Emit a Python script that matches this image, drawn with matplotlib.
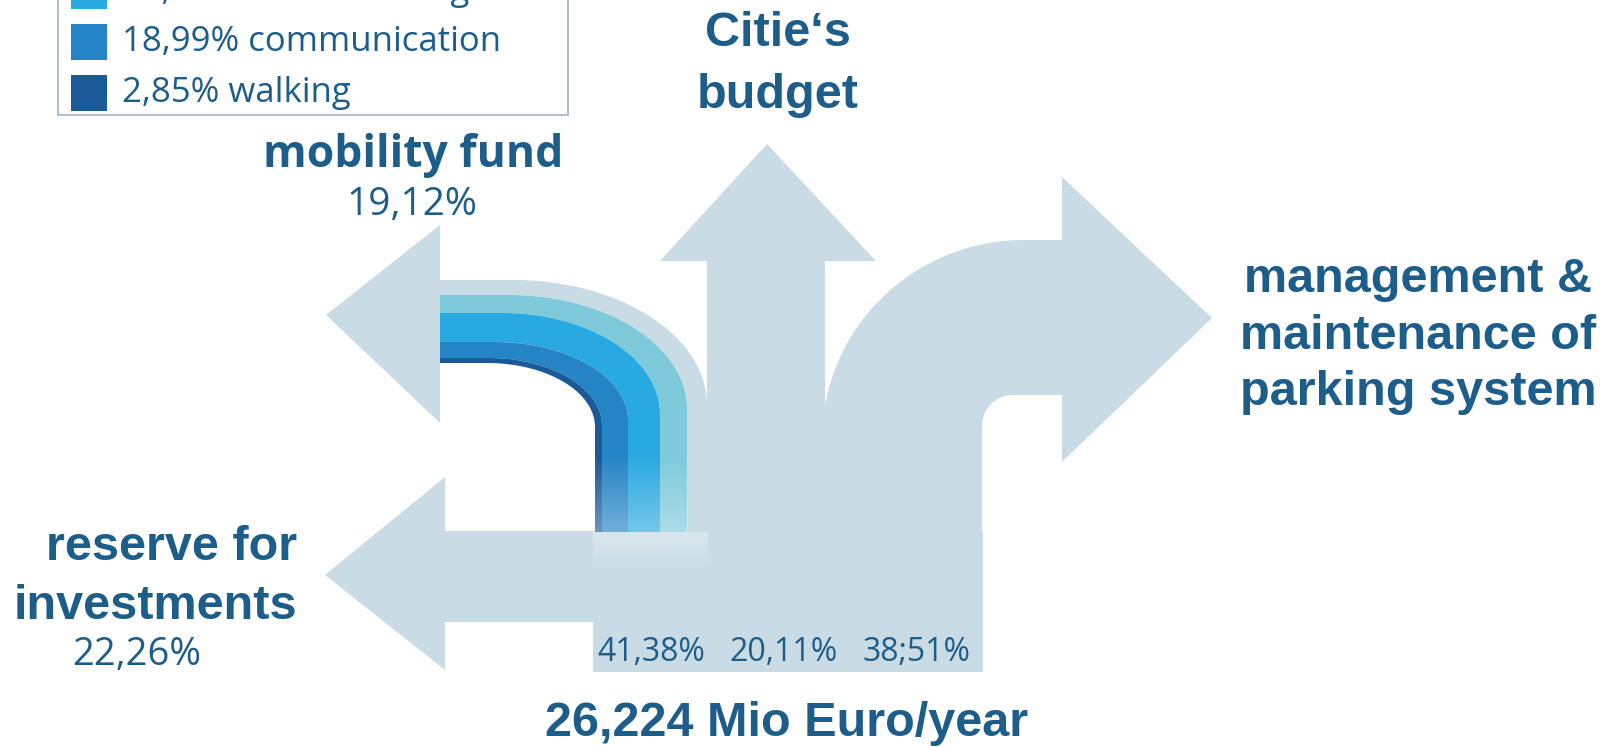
import numpy as np
import matplotlib
matplotlib.use("Agg")
import matplotlib.pyplot as plt
from matplotlib.patches import Polygon, Rectangle

# ---- data ----
total_label = "26,224 Mio Euro/year"
trunk_shares = ["41,38%", "20,11%", "38;51%"]
branch_names = ["mobility fund", "reserve for\ninvestments", "Citie\u2018s\nbudget",
                "management &\nmaintenance of\nparking system"]
branch_shares = ["19,12%", "22,26%"]
fund_items = ["38,96% mobil. management", "18,99% communication", "2,85% walking"]

# ---- style ----
GRAY = "#c9dbe5"
TXT = "#1d5d8a"
TEAL, BRIGHT, MEDIUM, DARK = "#7ecadb", "#29a9e1", "#2584c5", "#1b5a98"
item_colors = [BRIGHT, MEDIUM, DARK]
BOLD = "Liberation Sans"
MYR = "Open Sans"

W, H = 1615, 747
fig = plt.figure(figsize=(W / 100, H / 100), dpi=100)
ax = fig.add_axes([0, 0, 1, 1])
ax.set_xlim(0, W)
ax.set_ylim(H, 0)
ax.axis("off")


def poly(pts, color, z=1):
    ax.add_patch(Polygon(pts, closed=True, facecolor=color, edgecolor="none", zorder=z))


def arc(cx, cy, rx, ry, a0, a1, n=60):
    t = np.linspace(np.radians(a0), np.radians(a1), n)
    return np.column_stack([cx + rx * np.cos(t), cy - ry * np.sin(t)])


# upper left arrow head (mobility fund)
poly([(440, 225), (326, 315), (440, 423)], GRAY)
# lower left arrow (reserve)
poly([(445, 477), (325, 575), (445, 670)], GRAY)
ax.add_patch(Rectangle((443, 531), 152, 91, facecolor=GRAY, edgecolor="none"))
# up arrow (city budget)
poly([(660, 261), (767, 144), (876, 261)], GRAY)
ax.add_patch(Rectangle((707, 259), 118, 413, facecolor=GRAY, edgecolor="none"))
# right curved arrow (parking)
outer = arc(1024, 440, 202, 200, 180, 90)
inner = arc(1013, 426, 31, 31, 90, 180, 20)
right_pts = np.vstack([[(820, 672), (822, 440)], outer,
                       [(1062, 240), (1062, 177), (1212, 318), (1062, 462), (1062, 395)],
                       inner, [(982, 672)]])
poly(right_pts, GRAY)
# trunk
ax.add_patch(Rectangle((593, 532), 390, 140, facecolor=GRAY, edgecolor="none"))


# mobility fund band: boundaries (horizontal y, vertical x), outer -> inner
yh = [280, 295, 313, 342, 358, 363]
xv = [707, 687, 660, 628, 602, 595]
band_bottom = 532


def boundary(y, x):
    t = (x - 595) / (707 - 595)
    cx, cy = 487 + 26 * t, 427 - 22 * t
    pts = [(440, y)]
    pts += list(map(tuple, arc(cx, cy, x - cx, cy - y, 90, 0)))
    pts += [(x, band_bottom)]
    return np.array(pts)


curves = [boundary(y, x) for y, x in zip(yh, xv)]
band_colors = [GRAY, TEAL, BRIGHT, MEDIUM, DARK]
for i, c in enumerate(band_colors):
    pts = np.vstack([curves[i], curves[i + 1][::-1]])
    poly(pts, c, z=2)

# fade of the band ends
fade = np.zeros((60, 1, 4))
fade[..., :3] = 1.0
fade[:, 0, 3] = np.linspace(0, 0.35, 60)
ax.imshow(fade, extent=[595, 688, 532, 455], aspect="auto", zorder=3,
          interpolation="bilinear")
patch = np.zeros((40, 1, 4))
patch[..., :3] = 1.0
patch[:, 0, 3] = np.linspace(0.3, 0.0, 40)
ax.imshow(patch, extent=[593, 708, 574, 532], aspect="auto", zorder=3,
          interpolation="bilinear")
ax.set_xlim(0, W)
ax.set_ylim(H, 0)

# legend box
ax.add_patch(Rectangle((58, -30), 510, 145, facecolor="white", edgecolor="#9fb4c3",
                       lw=1.2, zorder=4))
for k, (lab, col) in enumerate(zip(fund_items, item_colors)):
    yc = -9 + 51 * k
    ax.add_patch(Rectangle((71, yc - 18), 36, 36, facecolor=col, edgecolor="none", zorder=5))
    ax.text(122, yc, lab, family=MYR, fontsize=25, color=TXT, va="center", ha="left", zorder=5)

# labels
ax.text(563, 167, branch_names[0], family=MYR, weight="bold", fontsize=32, color=TXT,
        ha="right", va="baseline")
ax.text(412, 215, branch_shares[0], family=MYR, fontsize=28, color=TXT, ha="center",
        va="baseline")

for line, yb in zip(branch_names[1].split("\n"), [560, 619]):
    ax.text(297, yb, line, family=BOLD, weight="bold", fontsize=35, color=TXT,
            ha="right", va="baseline")
ax.text(137, 665, branch_shares[1], family=MYR, fontsize=27.5, color=TXT, ha="center",
        va="baseline")

for line, yb in zip(branch_names[2].split("\n"), [46, 108]):
    ax.text(778, yb, line, family=BOLD, weight="bold", fontsize=35, color=TXT,
            ha="center", va="baseline")

for line, yb in zip(branch_names[3].split("\n"), [292, 349, 405]):
    ax.text(1418, yb, line, family=BOLD, weight="bold", fontsize=35, color=TXT,
            ha="center", va="baseline")

for lab, xc in zip(trunk_shares, [651, 784, 917]):
    ax.text(xc, 661, lab, family=MYR, fontsize=23, color=TXT, ha="center",
            va="baseline", zorder=5)

ax.text(787, 736, total_label, family=BOLD, weight="bold", fontsize=35, color=TXT,
        ha="center", va="baseline")

fig.savefig("out.png", dpi=100, facecolor="white")
